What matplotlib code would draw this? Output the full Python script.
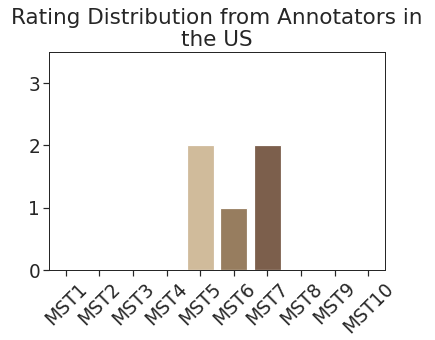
import matplotlib
matplotlib.use("Agg")
import matplotlib.pyplot as plt

# dados
categories = ["MST1", "MST2", "MST3", "MST4", "MST5", "MST6", "MST7", "MST8", "MST9", "MST10"]
counts = [0, 0, 0, 0, 2, 1, 2, 0, 0, 0]
colors = ["#eee5dc", "#ebe0d4", "#eee2cb", "#e1d3b8", "#d0bb9b", "#977d5f",
          "#7c5f4c", "#5c463b", "#3b3530", "#2c2826"]

text_color = "#262626"
plt.rcParams["font.family"] = ["DejaVu Sans"]
plt.rcParams["text.color"] = text_color
plt.rcParams["xtick.color"] = text_color
plt.rcParams["ytick.color"] = text_color

fig = plt.figure(figsize=(435 / 72, 340 / 72), dpi=72)
ax = fig.add_axes([49 / 435, 1 - 270 / 340, 336 / 435, 218 / 340])

x = list(range(len(categories)))
ax.bar(x, counts, width=0.8, color=colors, edgecolor="white", linewidth=1.2)

ax.set_xlim(-0.5, len(categories) - 0.5)
ax.set_ylim(0, 3.5)
ax.set_yticks([0, 1, 2, 3])
ax.set_xticks(x)
ax.set_xticklabels(categories, rotation=45)
ax.tick_params(labelsize=18.5, length=6, width=1.2, direction="out", pad=3)
for s in ax.spines.values():
    s.set_color(text_color)
    s.set_linewidth(1.0)

ax.set_title("Rating Distribution from Annotators in\nthe US", fontsize=21.5, linespacing=1.1, pad=6)

fig.savefig("out.png", dpi=72)
